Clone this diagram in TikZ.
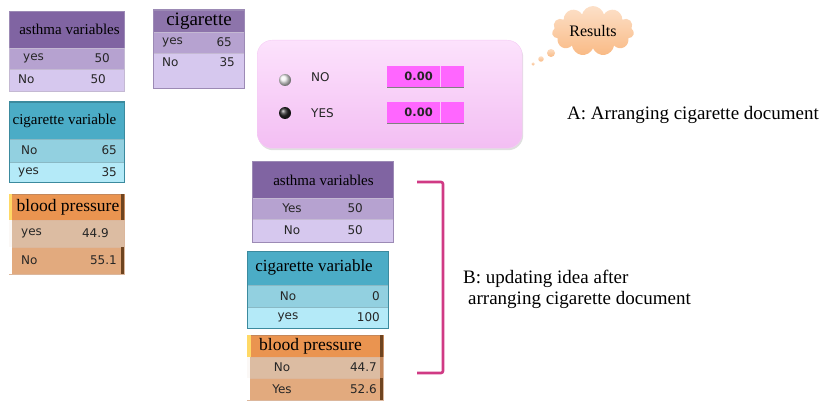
\documentclass[tikz,border=0pt]{standalone}
\usepackage{fontspec}
\setmainfont{Liberation Serif}
\newfontfamily\rowfont{DejaVu Sans}
\usetikzlibrary{shapes.symbols,shadows,calc}
\definecolor{purH}{HTML}{8064A2}
\definecolor{purA}{HTML}{B6A2D0}
\definecolor{purB}{HTML}{D6C8EE}
\definecolor{purE}{HTML}{9C8AB5}
\definecolor{teaH}{HTML}{4BACC6}
\definecolor{teaA}{HTML}{92D0E0}
\definecolor{teaB}{HTML}{B4EAF8}
\definecolor{teaE}{HTML}{3B8A9E}
\definecolor{oraH}{HTML}{EA9450}
\definecolor{oraA}{HTML}{DCBCA2}
\definecolor{oraB}{HTML}{E2AA7E}
\definecolor{oraE}{HTML}{C4875A}
\definecolor{oraDk}{HTML}{6E4420}
\definecolor{oraYl}{HTML}{FFD966}
\definecolor{panelA}{HTML}{FCE2FC}
\definecolor{panelB}{HTML}{F3BEF3}
\definecolor{mag}{HTML}{FF66FF}
\definecolor{cloudc}{HTML}{F9BA85}
\definecolor{brk}{HTML}{D03A84}
\newcommand\mkcell[7]{\node[cell, fill=#6, draw=#7, minimum width=#4pt, minimum height=#5pt] (#1) at (#2,#3) {};}
\begin{document}
\begin{tikzpicture}[x=1pt,y=-1pt,
  cell/.style={anchor=north west, inner sep=0pt, line width=0.6pt},
  rowtxt/.style={inner sep=0pt, font=\fontsize{12}{13}\rowfont, text=black!85},
  hdr/.style={inner sep=0pt, font=\fontsize{15}{17}\selectfont},
  note/.style={inner sep=0pt, font=\fontsize{19}{21}\selectfont, align=left},
  strip/.style={anchor=north west, inner sep=0pt, minimum height=0pt, minimum width=0pt},
  bubble/.style={circle, inner sep=0pt, top color=cloudc!50!white, bottom color=cloudc, draw=none}]
\useasboundingbox (0,0) rectangle (824,401);

% ---------- left asthma variables
\mkcell{laH}{9}{11}{115}{37}{purH}{purE}
\mkcell{laA}{9}{48}{115}{21}{purA}{purE!60}
\mkcell{laB}{9}{69}{115}{22}{purB}{purE!60}
\node[hdr] (laHt) at (69.5,29.5) {asthma variables};
\node[rowtxt, anchor=west] (laA1) at (23,58.5) {yes};
\node[rowtxt, anchor=east] (laA2) at (110,58.5) {50};
\node[rowtxt, anchor=west] (laB1) at (18,79.5) {No};
\node[rowtxt, anchor=east] (laB2) at (106,79.5) {50};

% ---------- top cigarette
\mkcell{tcH}{153}{10}{91}{22}{purH!90}{purE}
\mkcell{tcA}{153}{32}{91}{21}{purA}{purE!60}
\mkcell{tcB}{153}{53}{91}{35}{purB}{purE!60}
\draw[purE, line width=1pt] (tcH.north west) rectangle (tcB.south east);
\node[hdr, font=\fontsize{19}{21}\selectfont] (tcHt) at (199,21) {cigarette};
\node[rowtxt, anchor=west] (tcA1) at (162,42.5) {yes};
\node[rowtxt, anchor=east] (tcA2) at (232,42.5) {65};
\node[rowtxt, anchor=west] (tcB1) at (162,62) {No};
\node[rowtxt, anchor=east] (tcB2) at (235,62) {35};

% ---------- left cigarette variable
\mkcell{lcH}{9}{102}{115}{37}{teaH}{teaE}
\mkcell{lcA}{9}{139}{115}{23}{teaA}{teaE!60}
\mkcell{lcB}{9}{162}{115}{20}{teaB}{teaE!60}
\draw[teaE, line width=1pt] (lcH.north west) rectangle (lcB.south east);
\node[hdr] (lcHt) at (64.5,121) {cigarette variable};
\node[rowtxt, anchor=west] (lcA1) at (21,150.5) {No};
\node[rowtxt, anchor=east] (lcA2) at (117,150.5) {65};
\node[rowtxt, anchor=west] (lcB1) at (18,172) {yes};
\node[rowtxt, anchor=east] (lcB2) at (117,172) {35};

% ---------- left blood pressure
\mkcell{lbH}{9}{194}{115}{26}{oraH}{oraE}
\mkcell{lbA}{9}{220}{115}{27}{oraA}{oraE!60}
\mkcell{lbB}{9}{247}{115}{27}{oraB}{oraE!60}
\node[strip, fill=oraYl, minimum width=3pt, minimum height=26pt] (lbY) at (9,194) {};
\node[strip, fill=oraDk, minimum width=3pt, minimum height=26pt] (lbD) at (121,194) {};
\node[strip, fill=white!90!oraA, minimum width=3pt, minimum height=27pt] (lbAl) at (9,220) {};
\node[strip, fill=white, minimum width=3pt, minimum height=27pt] (lbBl) at (9,247) {};
\node[strip, fill=oraDk, minimum width=3pt, minimum height=27pt] (lbBd) at (121,247) {};
\node[hdr, font=\fontsize{17.5}{19}\selectfont] (lbHt) at (68,207) {blood pressure};
\node[rowtxt, anchor=west] (lbA1) at (21,233.5) {yes};
\node[rowtxt, anchor=east] (lbA2) at (109,233.5) {44.9};
\node[rowtxt, anchor=west] (lbB1) at (21,260.5) {No};
\node[rowtxt, anchor=east] (lbB2) at (117,260.5) {55.1};

% ---------- results panel
\node[anchor=north west, inner sep=0pt, minimum width=265pt, minimum height=108pt,
      rounded corners=15pt, top color=panelA, bottom color=panelB, draw=panelB!80!white,
      drop shadow={opacity=0.25, shadow xshift=1pt, shadow yshift=-2pt}] (panel) at (257,40) {};
\node[circle, inner sep=0pt, minimum size=12pt, ball color=white!92!gray] (rNo) at (285,80) {};
\node[circle, inner sep=0pt, minimum size=12pt, ball color=black!85] (rYes) at (285,113) {};
\node[rowtxt, anchor=west] (tNo) at (311,77) {NO};
\node[rowtxt, anchor=west] (tYes) at (311,113) {YES};
\mkcell{bNoA}{387}{66}{53}{21}{mag}{mag}
\mkcell{bNoB}{440}{66}{23}{21}{mag}{mag}
\mkcell{bYesA}{387}{102}{53}{21}{mag}{mag}
\mkcell{bYesB}{440}{102}{23}{21}{mag}{mag}
\draw[white!60!mag, line width=0.8pt] (bNoB.north west) -- (bNoB.south west);
\draw[white!60!mag, line width=0.8pt] (bYesB.north west) -- (bYesB.south west);
\draw[gray, line width=1.2pt] (bNoA.south west) -- (bNoB.south east);
\draw[gray, line width=1.2pt] (bYesA.south west) -- (bYesB.south east);
\node[rowtxt, anchor=east, font=\fontsize{11.5}{13}\rowfont\bfseries] (vNo) at (433,76.5) {0.00};
\node[rowtxt, anchor=east, font=\fontsize{11.5}{13}\rowfont\bfseries] (vYes) at (433,112.5) {0.00};

% ---------- cloud
\node[cloud, cloud puffs=11, aspect=1.8, minimum width=82pt, minimum height=48pt,
      inner sep=0pt, top color=cloudc!45!white, bottom color=cloudc, draw=none,
      font=\fontsize{16}{18}\selectfont] (cloud) at (593,31) {Results};
\node[bubble, minimum size=8pt] (bub1) at (551,53) {};
\node[bubble, minimum size=5.5pt] (bub2) at (541,59) {};
\node[bubble, minimum size=3.5pt] (bub3) at (533,64) {};

% ---------- annotation A
\node[note, anchor=west] (noteA) at (567,115) {A: Arranging cigarette document};

% ---------- middle asthma variables
\mkcell{maH}{252}{161}{141}{37}{purH}{purE}
\mkcell{maA}{252}{198}{141}{21}{purA}{purE!60}
\mkcell{maB}{252}{219}{141}{23}{purB}{purE!60}
\draw[purE, line width=1pt] (maH.north west) rectangle (maB.south east);
\node[hdr] (maHt) at (323.5,180) {asthma variables};
\node[rowtxt] (maA1) at (292,208.5) {Yes};
\node[rowtxt, anchor=east] (maA2) at (363,208.5) {50};
\node[rowtxt] (maB1) at (292,230.5) {No};
\node[rowtxt, anchor=east] (maB2) at (363,230.5) {50};

% ---------- middle cigarette variable
\mkcell{mcH}{247}{251}{141}{34}{teaH}{teaE}
\mkcell{mcA}{247}{285}{141}{22}{teaA}{teaE!60}
\mkcell{mcB}{247}{307}{141}{21}{teaB}{teaE!60}
\draw[teaE, line width=1pt] (mcH.north west) rectangle (mcB.south east);
\node[hdr, font=\fontsize{17}{19}\selectfont] (mcHt) at (314,267) {cigarette variable};
\node[rowtxt] (mcA1) at (288,296) {No};
\node[rowtxt, anchor=east] (mcA2) at (380,296) {0};
\node[rowtxt] (mcB1) at (288,317.5) {yes};
\node[rowtxt, anchor=east] (mcB2) at (380,317.5) {100};

% ---------- middle blood pressure
\mkcell{mbH}{247}{335}{136}{22}{oraH}{oraE}
\mkcell{mbA}{247}{357}{136}{21}{oraA}{oraE!60}
\mkcell{mbB}{247}{378}{136}{22}{oraB}{oraE!60}
\node[strip, fill=oraYl, minimum width=4pt, minimum height=22pt] (mbY) at (247,335) {};
\node[strip, fill=oraDk, minimum width=3pt, minimum height=22pt] (mbD) at (380,335) {};
\node[strip, fill=white!90!oraA, minimum width=3pt, minimum height=21pt] (mbAl) at (247,357) {};
\node[strip, fill=oraE, minimum width=3pt, minimum height=21pt] (mbAd) at (380,357) {};
\node[strip, fill=white, minimum width=3pt, minimum height=22pt] (mbBl) at (247,378) {};
\node[strip, fill=oraDk, minimum width=3pt, minimum height=22pt] (mbBd) at (380,378) {};
\node[hdr, font=\fontsize{17.5}{19}\selectfont] (mbHt) at (310.5,346) {blood pressure};
\node[rowtxt] (mbA1) at (282,367.5) {No};
\node[rowtxt, anchor=east] (mbA2) at (377,367.5) {44.7};
\node[rowtxt] (mbB1) at (282,389) {Yes};
\node[rowtxt, anchor=east] (mbB2) at (377,389) {52.6};

% ---------- bracket
\coordinate (brT) at (417,182);
\coordinate (brB) at (417,373);
\draw[brk, line width=2.6pt, rounded corners=2pt] (brT) -- ++(26,0) -- ++(0,191) -- (brB);

% ---------- annotation B
\node[note, anchor=west] (noteB) at (463,289.5) {B: updating idea after\\\hspace{5pt}arranging cigarette document};
\end{tikzpicture}
\end{document}
